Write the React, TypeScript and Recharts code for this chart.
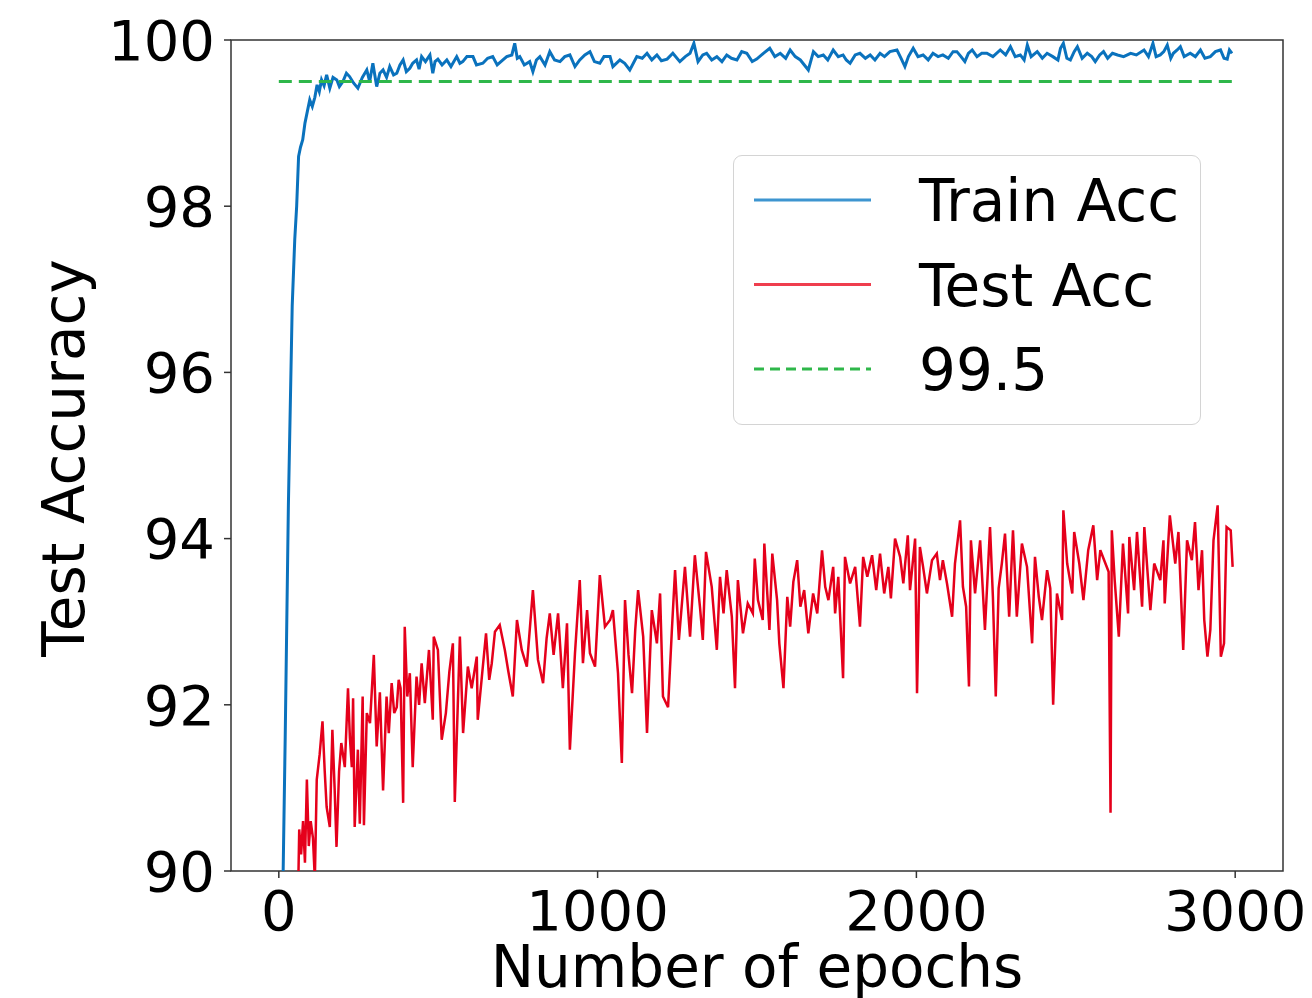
import { LineChart, Line, XAxis, YAxis, ReferenceArea, Legend } from 'recharts'

// epochs and accuracies
const trainEpochs = [
    5, 12, 20, 30, 42, 50, 56, 62, 68, 75, 82, 90, 97, 105, 113, 120, 127, 134, 142, 150,
    160, 170, 182, 190, 201, 212, 222, 235, 248, 262, 276, 285, 295, 307, 317, 327, 338, 348, 360, 370,
    380, 390, 400, 411, 420, 432, 440, 448, 460, 474, 483, 490, 499, 512, 527, 540, 558, 568, 577, 590,
    609, 620, 640, 655, 671, 685, 703, 715, 731, 740, 748, 756, 770, 787, 797, 808, 819, 835, 850, 865,
    882, 897, 913, 929, 944, 960, 976, 990, 1007, 1020, 1039, 1048, 1070, 1085, 1101, 1123, 1140, 1155, 1170, 1186,
    1200, 1218, 1236, 1258, 1275, 1290, 1302, 1315, 1330, 1342, 1358, 1374, 1390, 1405, 1420, 1437, 1452, 1468, 1485, 1499,
    1520, 1540, 1556, 1573, 1590, 1604, 1620, 1636, 1661, 1677, 1692, 1708, 1722, 1739, 1755, 1770, 1780, 1792, 1808, 1823,
    1840, 1855, 1870, 1886, 1900, 1917, 1939, 1952, 1964, 1975, 1990, 2005, 2021, 2037, 2052, 2068, 2083, 2100, 2115, 2127,
    2140, 2152, 2163, 2175, 2190, 2205, 2221, 2240, 2263, 2280, 2295, 2310, 2326, 2338, 2348, 2360, 2379, 2395, 2410, 2428,
    2444, 2452, 2461, 2472, 2483, 2495, 2505, 2520, 2536, 2550, 2561, 2575, 2587, 2600, 2615, 2631, 2650, 2672, 2690, 2714,
    2728, 2742, 2752, 2765, 2776, 2787, 2798, 2806, 2818, 2828, 2840, 2859, 2875, 2891, 2905, 2922, 2938, 2954, 2965, 2975,
    2982, 2990,
]
const trainAcc = [
    86.0, 89.6, 91.6, 94.4, 96.8, 97.6, 98.0, 98.6, 98.71, 98.8, 99.0, 99.15, 99.28, 99.2, 99.31, 99.46, 99.38, 99.52, 99.45, 99.58,
    99.42, 99.55, 99.52, 99.44, 99.5, 99.6, 99.56, 99.48, 99.42, 99.55, 99.64, 99.5, 99.72, 99.44, 99.6, 99.64, 99.55, 99.68, 99.58, 99.6,
    99.7, 99.76, 99.62, 99.66, 99.72, 99.76, 99.65, 99.8, 99.74, 99.82, 99.6, 99.74, 99.77, 99.7, 99.76, 99.68, 99.8, 99.72, 99.74, 99.8,
    99.8, 99.7, 99.72, 99.78, 99.8, 99.7, 99.76, 99.8, 99.82, 99.96, 99.78, 99.8, 99.7, 99.74, 99.62, 99.76, 99.8, 99.7, 99.86, 99.76,
    99.74, 99.8, 99.82, 99.68, 99.76, 99.82, 99.86, 99.74, 99.72, 99.8, 99.8, 99.68, 99.76, 99.72, 99.64, 99.8, 99.78, 99.84, 99.76, 99.82,
    99.75, 99.77, 99.84, 99.74, 99.8, 99.84, 99.96, 99.74, 99.82, 99.84, 99.76, 99.8, 99.74, 99.82, 99.78, 99.76, 99.86, 99.84, 99.74, 99.77,
    99.84, 99.9, 99.8, 99.84, 99.78, 99.88, 99.8, 99.76, 99.64, 99.86, 99.8, 99.82, 99.76, 99.88, 99.8, 99.82, 99.76, 99.72, 99.82, 99.84,
    99.78, 99.82, 99.76, 99.84, 99.8, 99.86, 99.88, 99.78, 99.68, 99.8, 99.9, 99.8, 99.82, 99.76, 99.84, 99.8, 99.82, 99.78, 99.86, 99.86,
    99.8, 99.74, 99.84, 99.88, 99.8, 99.84, 99.84, 99.8, 99.88, 99.82, 99.92, 99.8, 99.82, 99.76, 99.94, 99.8, 99.86, 99.78, 99.84, 99.8,
    99.76, 99.9, 99.96, 99.78, 99.76, 99.86, 99.92, 99.78, 99.84, 99.8, 99.74, 99.82, 99.86, 99.78, 99.84, 99.82, 99.8, 99.84, 99.82, 99.88,
    99.8, 99.96, 99.8, 99.82, 99.86, 99.94, 99.78, 99.84, 99.88, 99.92, 99.8, 99.84, 99.8, 99.88, 99.78, 99.8, 99.86, 99.88, 99.78, 99.77,
    99.88, 99.84,
]

const testEpochs = [
    60, 64, 70, 76, 82, 88, 94, 100, 107, 113, 119, 128, 137, 144, 150, 160, 168, 175, 181, 189,
    196, 207, 217, 223, 229, 233, 238, 248, 254, 263, 267, 276, 286, 298, 307, 317, 327, 338, 345, 354,
    362, 370, 376, 382, 390, 395, 403, 411, 420, 432, 440, 448, 458, 471, 483, 486, 499, 511, 524, 535,
    546, 552, 568, 578, 593, 605, 621, 624, 637, 650, 660, 668, 678, 693, 709, 720, 734, 747, 762, 778,
    797, 813, 829, 840, 850, 862, 876, 891, 904, 913, 929, 944, 954, 967, 976, 992, 1007, 1023, 1039, 1048,
    1064, 1076, 1086, 1097, 1108, 1118, 1127, 1143, 1155, 1170, 1186, 1196, 1205, 1221, 1233, 1243, 1255, 1274, 1290, 1305,
    1321, 1330, 1340, 1358, 1374, 1384, 1395, 1405, 1421, 1431, 1440, 1456, 1471, 1487, 1493, 1503, 1518, 1523, 1539, 1548,
    1563, 1570, 1583, 1595, 1604, 1614, 1626, 1636, 1648, 1661, 1676, 1689, 1704, 1714, 1724, 1739, 1745, 1755, 1770, 1776,
    1792, 1808, 1823, 1833, 1846, 1861, 1874, 1886, 1899, 1912, 1920, 1933, 1949, 1959, 1973, 1980, 1996, 2002, 2011, 2021,
    2033, 2049, 2064, 2074, 2083, 2096, 2112, 2121, 2137, 2146, 2156, 2165, 2171, 2184, 2200, 2215, 2231, 2240, 2249, 2258,
    2268, 2278, 2291, 2303, 2315, 2331, 2347, 2363, 2372, 2384, 2394, 2410, 2420, 2429, 2441, 2457, 2461, 2473, 2489, 2495,
    2511, 2524, 2539, 2555, 2567, 2577, 2593, 2603, 2609, 2613, 2622, 2635, 2648, 2664, 2668, 2683, 2692, 2708, 2715, 2725,
    2734, 2746, 2765, 2775, 2779, 2795, 2812, 2822, 2837, 2849, 2864, 2874, 2885, 2896, 2903, 2913, 2922, 2932, 2945, 2955,
    2965, 2973, 2986, 2992,
]
const testAcc = [
    89.6, 90.5, 90.2, 90.6, 90.1, 91.1, 90.3, 90.6, 90.4, 89.9, 91.1, 91.4, 91.8, 91.2, 90.77, 90.53, 91.7, 91.0, 90.29, 91.2,
    91.54, 91.25, 92.2, 91.6, 91.25, 92.08, 90.53, 91.46, 90.57, 92.1, 90.55, 91.9, 91.78, 92.6, 91.5, 92.15, 90.97, 92.1, 91.66, 92.26,
    91.9, 91.97, 92.3, 92.2, 90.82, 92.94, 92.1, 92.38, 91.25, 92.34, 92.0, 92.5, 92.02, 92.66, 91.82, 92.82, 92.66, 91.58, 91.9, 92.4,
    92.74, 90.83, 92.82, 91.66, 92.46, 92.2, 92.58, 91.82, 92.34, 92.86, 92.3, 92.5, 92.88, 92.96, 92.66, 92.4, 92.1, 93.02, 92.66, 92.46,
    93.38, 92.54, 92.26, 92.8, 93.1, 92.6, 93.1, 92.2, 92.98, 91.46, 92.62, 93.5, 92.5, 93.14, 92.62, 92.46, 93.56, 92.94, 93.02, 93.14,
    92.38, 91.3, 93.26, 92.6, 92.14, 92.9, 93.38, 92.82, 91.66, 93.14, 92.74, 93.34, 92.1, 91.97, 92.9, 93.62, 92.78, 93.66, 92.82, 93.8,
    93.18, 92.78, 93.84, 93.42, 92.66, 93.54, 93.1, 93.62, 93.06, 92.2, 93.5, 92.86, 93.22, 93.1, 93.76, 93.26, 93.02, 93.94, 92.9, 93.82,
    93.26, 92.74, 92.2, 93.3, 92.94, 93.48, 93.74, 93.18, 93.38, 92.86, 93.34, 93.1, 93.86, 93.42, 93.26, 93.66, 93.1, 93.54, 92.32, 93.78,
    93.46, 93.66, 92.94, 93.78, 93.54, 93.8, 93.38, 93.82, 93.34, 93.66, 93.28, 94.0, 93.78, 93.46, 94.04, 93.38, 94.0, 92.14, 93.9, 93.66,
    93.34, 93.74, 93.82, 93.5, 93.74, 93.46, 93.06, 93.7, 94.22, 93.42, 93.18, 92.22, 93.98, 93.34, 93.98, 92.9, 94.14, 93.3, 92.1, 93.4,
    93.7, 94.06, 93.06, 94.1, 93.06, 93.94, 93.66, 92.74, 93.78, 93.3, 93.02, 93.62, 93.4, 92.0, 93.34, 93.02, 94.34, 93.7, 93.34, 94.08,
    93.7, 93.26, 93.86, 94.16, 93.5, 93.86, 93.7, 93.6, 90.7, 94.1, 93.5, 92.82, 93.94, 93.1, 94.02, 93.38, 94.08, 93.18, 94.14, 93.6,
    93.14, 93.7, 93.5, 93.98, 93.22, 94.28, 93.7, 94.08, 92.66, 93.98, 93.74, 94.2, 93.38, 93.86, 93.02, 92.58, 92.9, 93.98, 94.4, 92.58,
    92.74, 94.14, 94.1, 93.66,
]

const targetEpochs = [0, 3000]
const targetAcc = [99.5, 99.5]

const xTicks = [0, 1000, 2000, 3000]
const yTicks = [90, 92, 94, 96, 98, 100]

const trainData = trainEpochs.map((epoch, i) => ({ epoch, acc: trainAcc[i] }))
const testData = testEpochs.map((epoch, i) => ({ epoch, acc: testAcc[i] }))
const targetData = targetEpochs.map((epoch, i) => ({ epoch, acc: targetAcc[i] }))

const FONT = 'DejaVu Sans'
const BLUE = '#0a72bd'
const RED = '#e5001b'
const GREEN = '#2fb74a'

const legendItems = [
    { label: 'Train Acc', color: '#3d95d0', dash: undefined },
    { label: 'Test Acc', color: '#ef3e4e', dash: undefined },
    { label: '99.5', color: GREEN, dash: '10 6' },
]

function renderLegend() {
    return (
        <div
            style={{
                width: 468,
                height: 270,
                boxSizing: 'border-box',
                border: '1.5px solid #d4d4d4',
                borderRadius: 9,
                background: 'rgba(255,255,255,0.8)',
            }}
        >
            <svg width={465} height={267}>
                {legendItems.map((item, i) => {
                    const cy = 44 + i * 84.5
                    return (
                        <g key={item.label}>
                            <line x1={20} x2={137} y1={cy} y2={cy} stroke={item.color} strokeWidth={3} strokeDasharray={item.dash} />
                            <text x={185} y={cy + 21} fontSize={58} fontFamily={FONT} fill="#000">
                                {item.label}
                            </text>
                        </g>
                    )
                })}
            </svg>
        </div>
    )
}

const yLabel = () => (
    <text transform="translate(84, 458) rotate(-90)" textAnchor="middle" fontSize={58} fontFamily={FONT} fill="#000">
        Test Accuracy
    </text>
)

const xLabel = () => (
    <text x={757} y={987} textAnchor="middle" fontSize={58} fontFamily={FONT} fill="#000">
        Number of epochs
    </text>
)

export default function App() {
    const tickStyle = { fontSize: 56, fill: '#000', fontFamily: FONT }
    return (
        <div style={{ position: 'absolute', left: 0, top: 0, width: 1312, height: 998, background: '#fff' }}>
            <LineChart width={1312} height={998} margin={{ top: 40, right: 29, bottom: 0, left: 0 }}>
                <XAxis
                    type="number"
                    dataKey="epoch"
                    domain={[-150, 3150]}
                    ticks={xTicks}
                    allowDataOverflow
                    height={127}
                    tickSize={7}
                    tickMargin={12}
                    axisLine={false}
                    tickLine={{ stroke: '#333', strokeWidth: 1.5 }}
                    tick={tickStyle}
                    label={xLabel}
                />
                <YAxis
                    type="number"
                    domain={[90, 100]}
                    ticks={yTicks}
                    allowDataOverflow
                    width={231}
                    tickSize={7}
                    tickMargin={9}
                    axisLine={false}
                    tickLine={{ stroke: '#333', strokeWidth: 1.5 }}
                    tick={tickStyle}
                    label={yLabel}
                />
                <Line data={trainData} dataKey="acc" stroke={BLUE} strokeWidth={3} dot={false} isAnimationActive={false} />
                <Line data={testData} dataKey="acc" stroke={RED} strokeWidth={2.5} dot={false} isAnimationActive={false} />
                <Line
                    data={targetData}
                    dataKey="acc"
                    stroke={GREEN}
                    strokeWidth={3}
                    strokeDasharray="13 7"
                    dot={false}
                    isAnimationActive={false}
                />
                <ReferenceArea x1={-150} x2={3150} y1={90} y2={100} fill="none" stroke="#333" strokeWidth={1.5} />
                <Legend
                    content={renderLegend}
                    layout="horizontal"
                    verticalAlign="middle"
                    align="center"
                    wrapperStyle={{ left: 733, top: 155, width: 468, height: 270 }}
                />
            </LineChart>
        </div>
    )
}
